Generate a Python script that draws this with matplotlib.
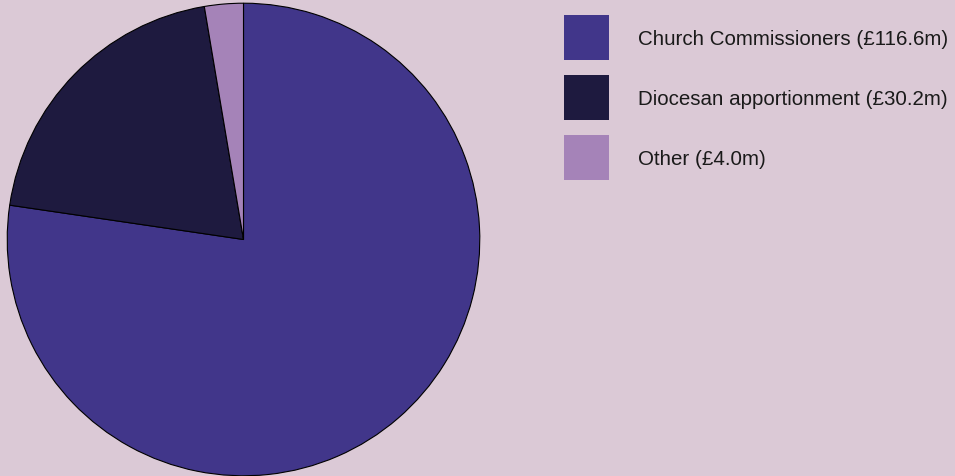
import matplotlib
matplotlib.use("Agg")
import matplotlib.pyplot as plt
from matplotlib.patches import Rectangle

labels = ["Church Commissioners (£116.6m)", "Diocesan apportionment (£30.2m)", "Other (£4.0m)"]
values = [116.6, 30.2, 4.0]
colors = ["#41368a", "#1e1a3f", "#a583b8"]
bg = "#dbc9d6"

W, H = 955, 477
fig = plt.figure(figsize=(W / 100, H / 100), dpi=100, facecolor=bg)
plt.rcParams['font.family'] = ['Liberation Sans', 'DejaVu Sans']

cx, cy, R = 243.5, 240.5, 237.0
ax = fig.add_axes([(cx - R) / W, (H - cy - R) / H, 2 * R / W, 2 * R / H])
ax.set_facecolor(bg)
wedges, _ = ax.pie(values, colors=colors, startangle=90, counterclock=False,
                   wedgeprops=dict(edgecolor="black", linewidth=0.8), radius=1.0)
ax.set_xlim(-1.003, 1.003)
ax.set_ylim(-1.003, 1.003)
ax.set_aspect("equal")
ax.axis("off")

# legend drawn in figure pixel coordinates
fs_px = 20.5
for i, (lab, col) in enumerate(zip(labels, colors)):
    top = 16 + 60 * i
    fig.patches.append(Rectangle((564 / W, 1 - (top + 45) / H), 45 / W, 45 / H,
                                 transform=fig.transFigure, facecolor=col,
                                 edgecolor="none", figure=fig))
    fig.text(638 / W, 1 - (top + 21.5) / H, lab, ha="left", va="center_baseline",
             fontsize=fs_px * 72 / 100, color="#1a1a1a")

fig.savefig("out.png", dpi=100, facecolor=bg)
